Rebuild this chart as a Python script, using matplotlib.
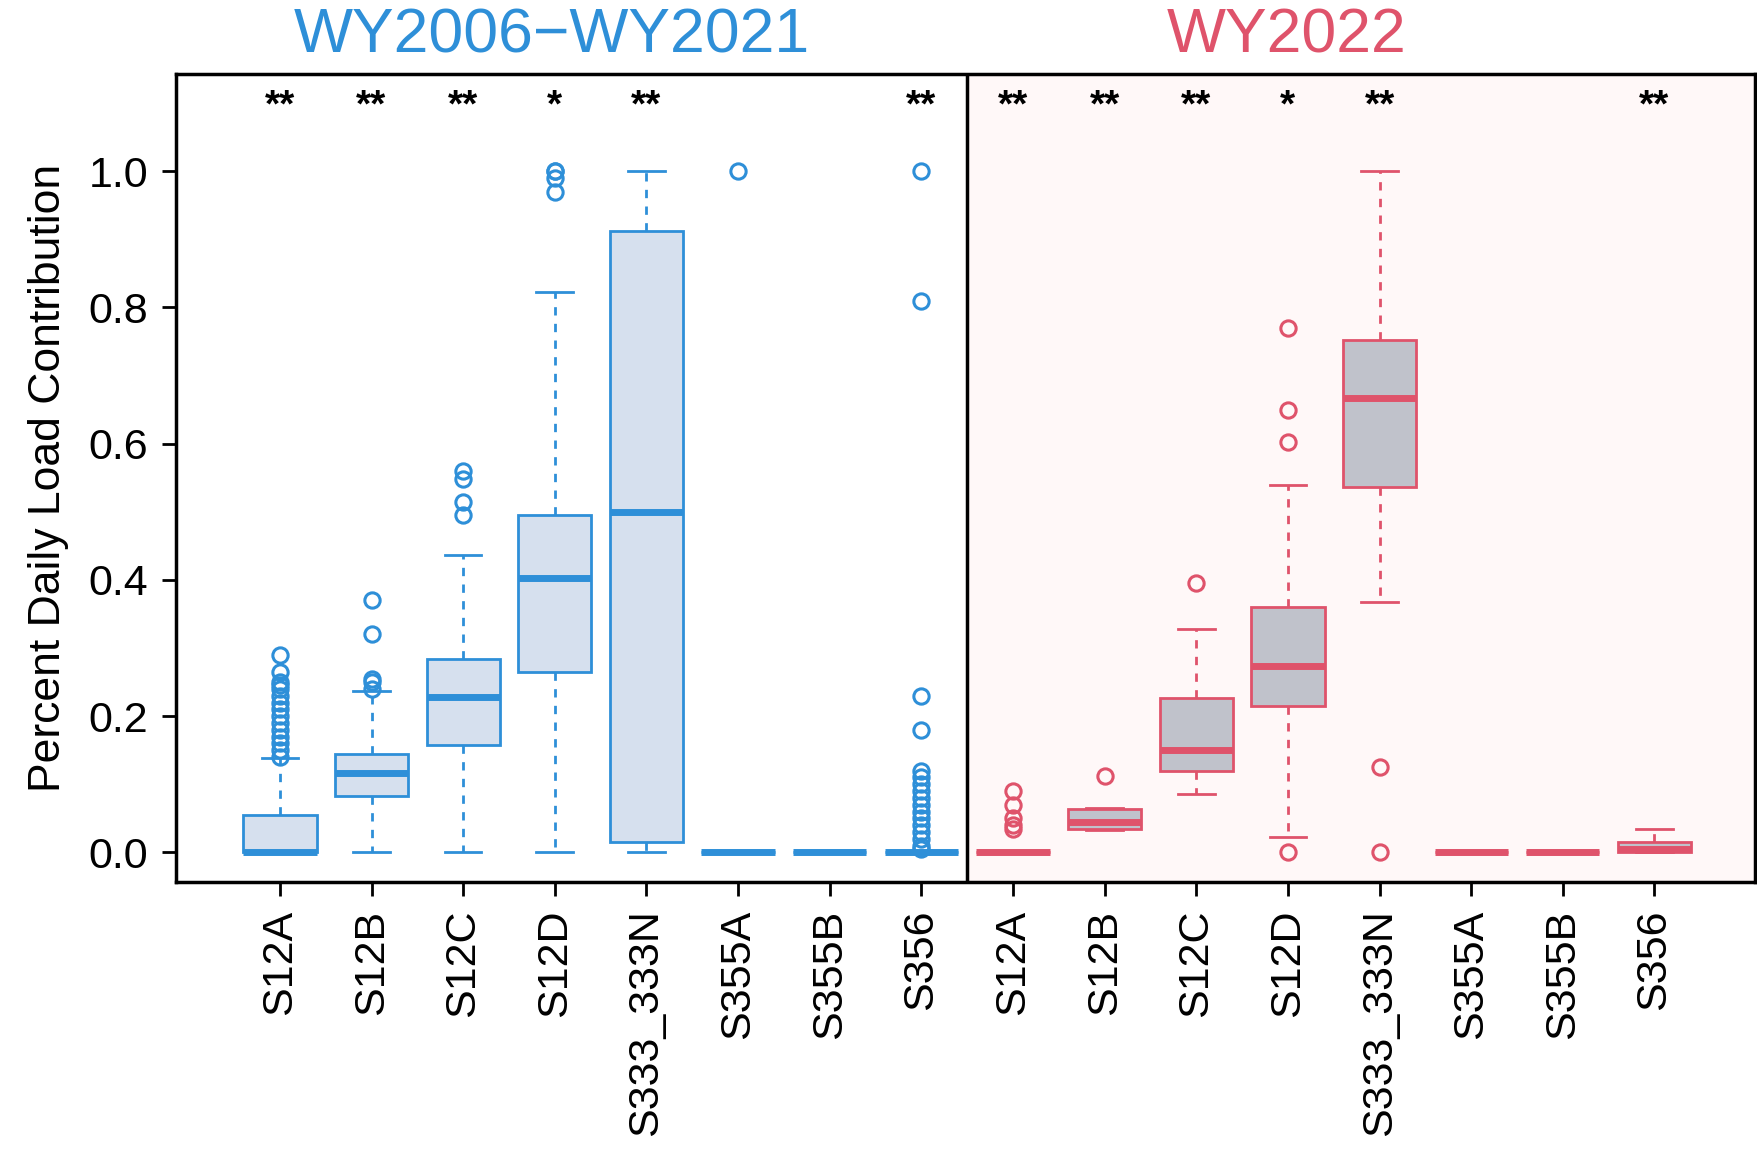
import numpy as np
import matplotlib.pyplot as plt

plt.rcParams['font.family'] = ['Liberation Sans', 'DejaVu Sans']

sites = ["S12A", "S12B", "S12C", "S12D", "S333_333N", "S355A", "S355B", "S356"]
stars = ["**", "**", "**", "*", "**", "", "", "**"]

# period 1: WY2006-WY2021
q1_a = [0, 0.083, 0.157, 0.265, 0.015, 0, 0, 0]
med_a = [0, 0.117, 0.228, 0.403, 0.5, 0, 0, 0]
q3_a = [0.055, 0.145, 0.284, 0.495, 0.913, 0, 0, 0]
lo_a = [0, 0, 0, 0, 0, 0, 0, 0]
hi_a = [0.138, 0.237, 0.436, 0.823, 1.0, 0, 0, 0]
fl_a = [[0.14, 0.15, 0.16, 0.17, 0.18, 0.19, 0.2, 0.21, 0.22, 0.23, 0.24, 0.245, 0.25, 0.265, 0.29],
        [0.24, 0.25, 0.255, 0.32, 0.37],
        [0.495, 0.515, 0.548, 0.56],
        [0.97, 0.99, 1.0, 1.0],
        [],
        [1.0],
        [],
        [0.005, 0.01, 0.02, 0.03, 0.04, 0.05, 0.06, 0.07, 0.08, 0.09, 0.1, 0.11, 0.12, 0.18, 0.23, 0.81, 1.0]]

# period 2: WY2022
q1_b = [0, 0.035, 0.12, 0.215, 0.537, 0, 0, 0]
med_b = [0, 0.045, 0.15, 0.273, 0.667, 0, 0, 0.005]
q3_b = [0, 0.063, 0.226, 0.36, 0.752, 0, 0, 0.015]
lo_b = [0, 0.033, 0.085, 0.022, 0.367, 0, 0, 0]
hi_b = [0, 0.065, 0.328, 0.54, 1.0, 0, 0, 0.035]
fl_b = [[0.035, 0.04, 0.05, 0.07, 0.09],
        [0.112],
        [0.396],
        [0, 0.603, 0.65, 0.77],
        [0, 0.125],
        [], [], []]

blue, blue_fill = "#2E8FD8", "#D6E0EE"
red, red_fill = "#DF536B", "#C0C2CB"


def make_stats(q1, med, q3, lo, hi, fl):
    return [dict(q1=a, med=b, q3=c, whislo=d, whishi=e, fliers=f)
            for a, b, c, d, e, f in zip(q1, med, q3, lo, hi, fl)]


fig = plt.figure(figsize=(17.57, 11.54), dpi=100)
ax = fig.add_axes([0.100, 0.236, 0.899, 0.700])
ax.axvspan(8.5, 18, color="#FFF8F8", zorder=0)

n = len(sites)
for stats, pos, col, fill in [
        (make_stats(q1_a, med_a, q3_a, lo_a, hi_a, fl_a), np.arange(1, n + 1), blue, blue_fill),
        (make_stats(q1_b, med_b, q3_b, lo_b, hi_b, fl_b), np.arange(n + 1, 2 * n + 1), red, red_fill)]:
    ax.bxp(stats, positions=pos, widths=0.8, patch_artist=True,
           boxprops=dict(facecolor=fill, edgecolor=col, lw=2),
           medianprops=dict(color=col, lw=5),
           whiskerprops=dict(color=col, lw=2, ls=(0, (3, 3))),
           capprops=dict(color=col, lw=2),
           capwidths=0.4,
           flierprops=dict(marker="o", mfc="none", mec=col, ms=11, mew=2.2))

for i, s in enumerate(stars * 2):
    ax.text(i + 1, 1.095, s, ha="center", va="center", fontsize=28, fontweight="bold")

ax.axvline(8.5, color="black", lw=2.5)
ax.set_xlim(-0.137, 17.1)
ax.set_ylim(-0.043, 1.143)
ax.set_xticks(np.arange(1, 2 * n + 1))
ax.set_xticklabels(sites * 2, rotation=90, fontsize=31)
ax.set_yticks([0, 0.2, 0.4, 0.6, 0.8, 1.0])
ax.set_yticklabels(["0.0", "0.2", "0.4", "0.6", "0.8", "1.0"], fontsize=31)
ax.tick_params(length=10, width=2, pad=10)
for sp in ax.spines.values():
    sp.set_linewidth(2.5)
ax.set_ylabel("Percent Daily Load Contribution", fontsize=32, labelpad=14)

ax.text(0.238, 1.01, "WY2006\u2212WY2021", transform=ax.transAxes, ha="center", va="bottom",
        fontsize=45, color=blue)
ax.text(0.703, 1.01, "WY2022", transform=ax.transAxes, ha="center", va="bottom",
        fontsize=45, color=red)

fig.savefig("out.png")
